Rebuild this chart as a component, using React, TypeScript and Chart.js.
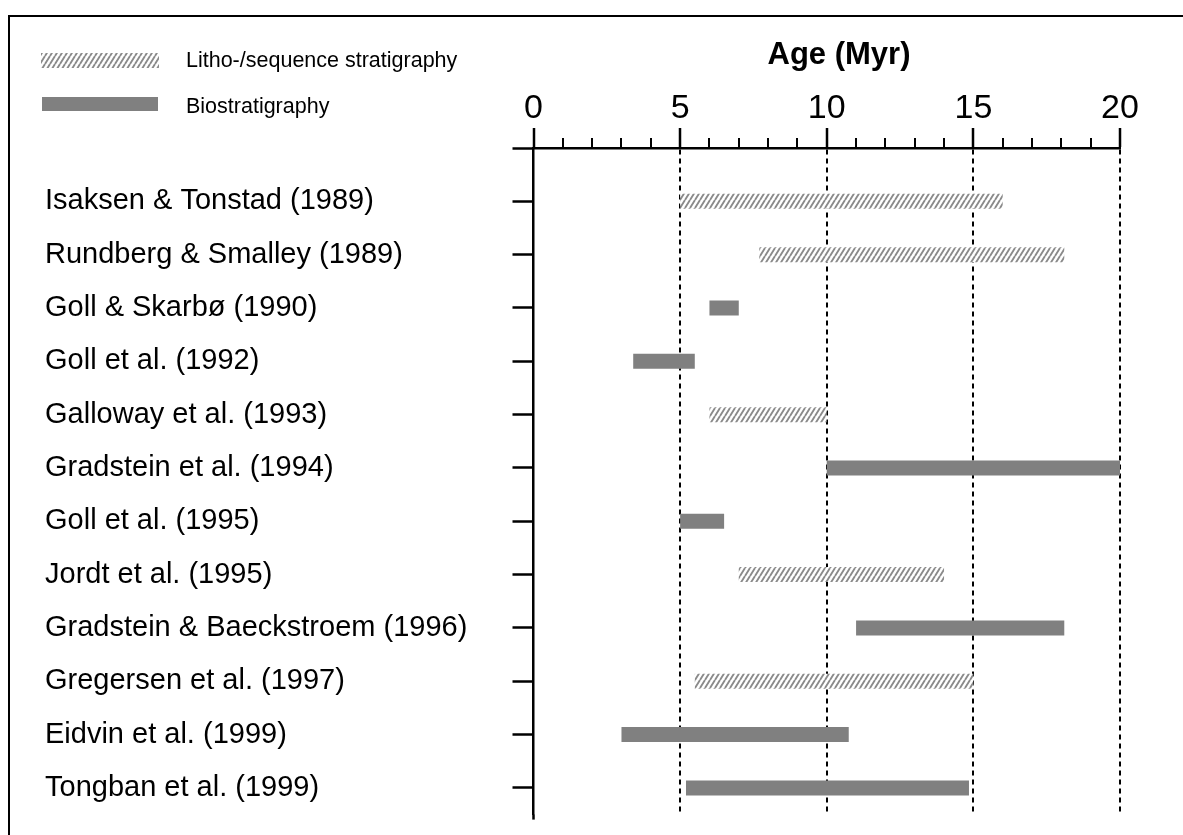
import React, { useEffect, useRef } from 'react';
import { Chart, registerables } from 'chart.js';

Chart.register(...registerables);

// ---------- data ----------
const categories = [
  'Isaksen & Tonstad (1989)',
  'Rundberg & Smalley (1989)',
  'Goll & Skarbø (1990)',
  'Goll et al. (1992)',
  'Galloway et al. (1993)',
  'Gradstein et al. (1994)',
  'Goll et al. (1995)',
  'Jordt et al. (1995)',
  'Gradstein & Baeckstroem (1996)',
  'Gregersen et al. (1997)',
  'Eidvin et al. (1999)',
  'Tongban et al. (1999)',
];

// Litho-/sequence stratigraphy ranges (Myr)
const lithoStart = [5.0, 7.7, null, null, 6.0, null, null, 7.0, null, 5.5, null, null];
const lithoEnd = [16.0, 18.1, null, null, 10.0, null, null, 14.0, null, 15.0, null, null];

// Biostratigraphy ranges (Myr)
const bioStart = [null, null, 6.0, 3.4, null, 10.0, 5.0, null, 11.0, null, 3.0, 5.2];
const bioEnd = [null, null, 7.0, 5.5, null, 20.0, 6.5, null, 18.1, null, 10.75, 14.85];

const seriesNames = ['Litho-/sequence stratigraphy', 'Biostratigraphy'];
const axisTitle = 'Age (Myr)';
const majorTicks = [0, 5, 10, 15, 20];
const minorTicks = [1, 2, 3, 4, 6, 7, 8, 9, 11, 12, 13, 14, 16, 17, 18, 19];

const FONT = "'Liberation Sans', Arial, sans-serif";
const SOLID = '#808080';

function makeHatch(): CanvasPattern | string {
  const w = 5, h = 8;
  const c = document.createElement('canvas');
  c.width = w; c.height = h;
  const g = c.getContext('2d');
  if (!g) return '#ccc';
  g.fillStyle = '#ffffff';
  g.fillRect(0, 0, w, h);
  g.strokeStyle = '#8a8a8a';
  g.lineWidth = 1.9;
  g.beginPath();
  for (const dx of [-w, 0, w]) {
    g.moveTo(dx, h);
    g.lineTo(dx + w, 0);
  }
  g.stroke();
  return g.createPattern(c, 'repeat') || '#ccc';
}

function buildData(starts: (number | null)[], ends: (number | null)[]) {
  const out: { x: [number, number]; y: number }[] = [];
  categories.forEach((_, i) => {
    const s = starts[i], e = ends[i];
    if (s != null && e != null) out.push({ x: [s, e], y: i + 1 });
  });
  return out;
}

export default function App() {
  const ref = useRef<HTMLCanvasElement | null>(null);

  useEffect(() => {
    const canvas = ref.current;
    if (!canvas) return;
    const hatch = makeHatch();

    const decor = {
      id: 'decor',
      afterDraw(chart: any) {
        const ctx = chart.ctx as CanvasRenderingContext2D;
        const xs = chart.scales.x;
        const { top, bottom, left } = chart.chartArea;
        ctx.save();
        // frame
        ctx.strokeStyle = '#000';
        ctx.lineWidth = 2;
        ctx.beginPath();
        ctx.moveTo(9, 835);
        ctx.lineTo(9, 16);
        ctx.lineTo(1183, 16);
        ctx.stroke();
        // y-axis extension below the plot
        ctx.lineWidth = 2.5;
        ctx.beginPath();
        ctx.moveTo(left, bottom);
        ctx.lineTo(left, bottom + 5);
        ctx.stroke();
        // minor ticks
        ctx.lineWidth = 2;
        ctx.beginPath();
        for (const v of minorTicks) {
          const px = Math.round(xs.getPixelForValue(v));
          ctx.moveTo(px, top);
          ctx.lineTo(px, top - 10);
        }
        ctx.stroke();
        // title
        ctx.fillStyle = '#000';
        ctx.font = `bold 31px ${FONT}`;
        ctx.textAlign = 'center';
        ctx.textBaseline = 'alphabetic';
        ctx.fillText(axisTitle, 839, 64);
        // legend
        ctx.fillStyle = hatch as any;
        ctx.fillRect(41, 53, 118, 15);
        ctx.fillStyle = SOLID;
        ctx.fillRect(42, 97, 116, 14);
        ctx.fillStyle = '#000';
        ctx.font = `21.5px ${FONT}`;
        ctx.textAlign = 'left';
        ctx.fillText(seriesNames[0], 186, 67);
        ctx.fillText(seriesNames[1], 186, 113);
        ctx.restore();
      },
    };

    const chart = new Chart(canvas, {
      type: 'bar',
      data: {
        datasets: [
          {
            label: seriesNames[0],
            data: buildData(lithoStart, lithoEnd) as any,
            backgroundColor: hatch as any,
            borderWidth: 0,
            grouped: false,
            maxBarThickness: 15,
          } as any,
          {
            label: seriesNames[1],
            data: buildData(bioStart, bioEnd) as any,
            backgroundColor: SOLID,
            borderWidth: 0,
            grouped: false,
            maxBarThickness: 15,
          } as any,
        ],
      },
      options: {
        indexAxis: 'y',
        responsive: false,
        devicePixelRatio: 1,
        animation: false,
        layout: { padding: { left: 45, right: 63, top: 0, bottom: 18 } },
        plugins: { legend: { display: false }, tooltip: { enabled: false } },
        scales: {
          x: {
            type: 'linear',
            position: 'top',
            min: 0,
            max: 20,
            offset: false,
            afterFit: (s: any) => { s.height = 148; },
            afterBuildTicks: (s: any) => { s.ticks = majorTicks.map((v) => ({ value: v })); },
            ticks: {
              color: '#000',
              padding: 2,
              font: { family: FONT, size: 34, lineHeight: 1 },
              maxRotation: 0,
              autoSkip: false,
            },
            grid: {
              offset: false,
              color: (c: any) => (c.tick && c.tick.value === 0 ? 'rgba(0,0,0,0)' : '#000'),
              lineWidth: 2,
              tickColor: '#000',
              tickWidth: 2.5,
              tickLength: 20,
              drawTicks: true,
            },
            border: { display: true, color: '#000', width: 2.5, dash: [5, 4] },
          },
          y: {
            type: 'linear',
            reverse: true,
            min: 0,
            max: 12.5,
            offset: false,
            afterFit: (s: any) => { s.width = 488.5; },
            ticks: {
              stepSize: 1,
              includeBounds: false,
              autoSkip: false,
              crossAlign: 'far',
              color: '#000',
              font: { family: FONT, size: 29 },
              callback: (v: any) => {
                const n = Number(v);
                return Number.isInteger(n) && n >= 1 && n <= categories.length ? categories[n - 1] : '';
              },
            },
            grid: {
              offset: false,
              drawOnChartArea: false,
              tickColor: '#000',
              tickWidth: 2.5,
              tickLength: 21,
            },
            border: { display: true, color: '#000', width: 2.5 },
          },
        },
      } as any,
      plugins: [decor],
    });

    return () => chart.destroy();
  }, []);

  return (
    <div style={{ position: 'fixed', left: 0, top: 0, width: 1183, height: 835, background: '#fff', overflow: 'hidden' }}>
      <canvas ref={ref} width={1183} height={835} style={{ display: 'block', width: 1183, height: 835 }} />
    </div>
  );
}
